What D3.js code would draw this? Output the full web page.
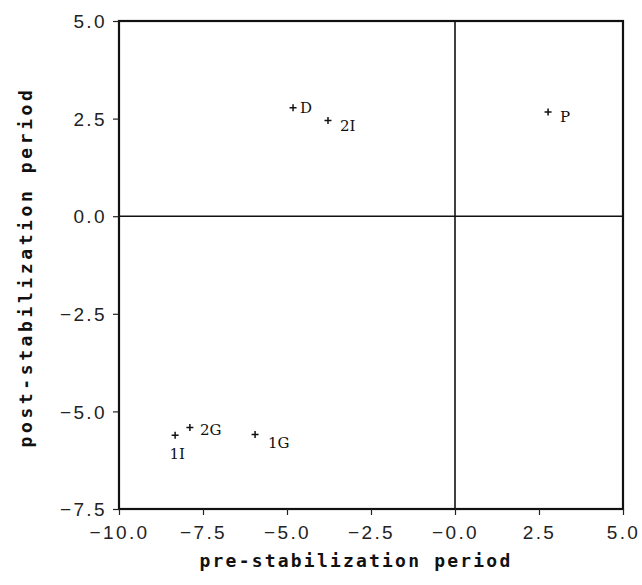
<!DOCTYPE html>
<html>
<head>
<meta charset="utf-8">
<script src="https://cdn.jsdelivr.net/npm/d3@7"></script>
<style>
  html, body { margin: 0; padding: 0; background: #fff; }
  svg { display: block; }
</style>
</head>
<body>
<svg id="chart" width="642" height="585"></svg>
<script>
// ---- data ----
const labels = ["D", "2I", "P", "1I", "2G", "1G"];
const preValues = [-4.82, -3.78, 2.77, -8.33, -7.89, -5.95];
const postValues = [2.78, 2.45, 2.67, -5.61, -5.41, -5.59];
const xTicks = [-10, -7.5, -5, -2.5, 0, 2.5, 5];
const yTicks = [-7.5, -5, -2.5, 0, 2.5, 5];
const xTitle = "pre-stabilization period";
const yTitle = "post-stabilization period";

// label placement (offset from point, px)
const labelDx = [7, 12, 12, 2, 10, 13];
const labelDy = [0, 5, 5, 19, 2, 8];
const labelAnchor = ["start", "start", "start", "middle", "start", "start"];

const svg = d3.select("#chart");
const m = { left: 119, right: 19, top: 21, bottom: 76 };
const W = 642, H = 585;

const x = d3.scaleLinear().domain([-10, 5]).range([m.left, W - m.right]);
const y = d3.scaleLinear().domain([-7.5, 5]).range([H - m.bottom, m.top]);

const fmt = d3.format(".1f");
const tickFont = "'Liberation Sans', Arial, sans-serif";

// zero reference lines
svg.append("line")
  .attr("x1", x(0)).attr("x2", x(0)).attr("y1", y(5)).attr("y2", y(-7.5))
  .attr("stroke", "#111").attr("stroke-width", 1.6);
svg.append("line")
  .attr("x1", x(-10)).attr("x2", x(5)).attr("y1", y(0)).attr("y2", y(0))
  .attr("stroke", "#111").attr("stroke-width", 1.6);

// frame
svg.append("rect")
  .attr("x", x(-10)).attr("y", y(5))
  .attr("width", x(5) - x(-10)).attr("height", y(-7.5) - y(5))
  .attr("fill", "none").attr("stroke", "#111").attr("stroke-width", 2.2);

// axes
const xAxis = svg.append("g")
  .attr("transform", `translate(0,${y(-7.5)})`)
  .call(d3.axisBottom(x).tickValues(xTicks).tickFormat(d => d === 0 ? "−0.0" : fmt(d)).tickSize(6).tickSizeOuter(0));
const yAxis = svg.append("g")
  .attr("transform", `translate(${x(-10)},0)`)
  .call(d3.axisLeft(y).tickValues(yTicks).tickFormat(fmt).tickSize(6).tickSizeOuter(0));

[xAxis, yAxis].forEach(g => {
  g.select(".domain").remove();
  g.selectAll(".tick line").attr("stroke", "#222").attr("stroke-width", 1.2);
  g.selectAll(".tick text")
    .attr("fill", "#222")
    .style("font-family", tickFont)
    .style("font-size", "19px")
    .style("letter-spacing", "2.4px");
});
xAxis.selectAll(".tick text").attr("dy", "0").attr("y", 30);
yAxis.selectAll(".tick text").attr("x", -12).attr("dy", "0.35em");

// points (plus markers)
const pts = labels.map((l, i) => ({ l, x: preValues[i], y: postValues[i], i }));
const s = 3.5;
const g = svg.append("g");
pts.forEach(p => {
  const cx = x(p.x), cy = y(p.y);
  g.append("path")
    .attr("d", `M${cx - s},${cy}H${cx + s}M${cx},${cy - s}V${cy + s}`)
    .attr("stroke", "#111").attr("stroke-width", 1.5).attr("fill", "none");
  g.append("text")
    .attr("x", cx + labelDx[p.i]).attr("y", cy + labelDy[p.i])
    .attr("dy", "0.35em")
    .attr("text-anchor", labelAnchor[p.i])
    .attr("fill", "#111")
    .style("font-family", "'DejaVu Serif', 'Liberation Serif', serif")
    .style("font-size", "15px")
    .text(p.l);
});

// axis titles
svg.append("text")
  .attr("x", 356).attr("y", 567)
  .attr("text-anchor", "middle")
  .attr("fill", "#111")
  .style("font-family", "'DejaVu Sans Mono', monospace")
  .style("font-weight", "bold")
  .style("font-size", "18px")
  .style("letter-spacing", "2.2px")
  .text(xTitle);
svg.append("text")
  .attr("transform", "translate(32,267) rotate(-90)")
  .attr("text-anchor", "middle")
  .attr("fill", "#111")
  .style("font-family", "'DejaVu Sans Mono', monospace")
  .style("font-weight", "bold")
  .style("font-size", "18px")
  .style("letter-spacing", "3.6px")
  .text(yTitle);
</script>
</body>
</html>
